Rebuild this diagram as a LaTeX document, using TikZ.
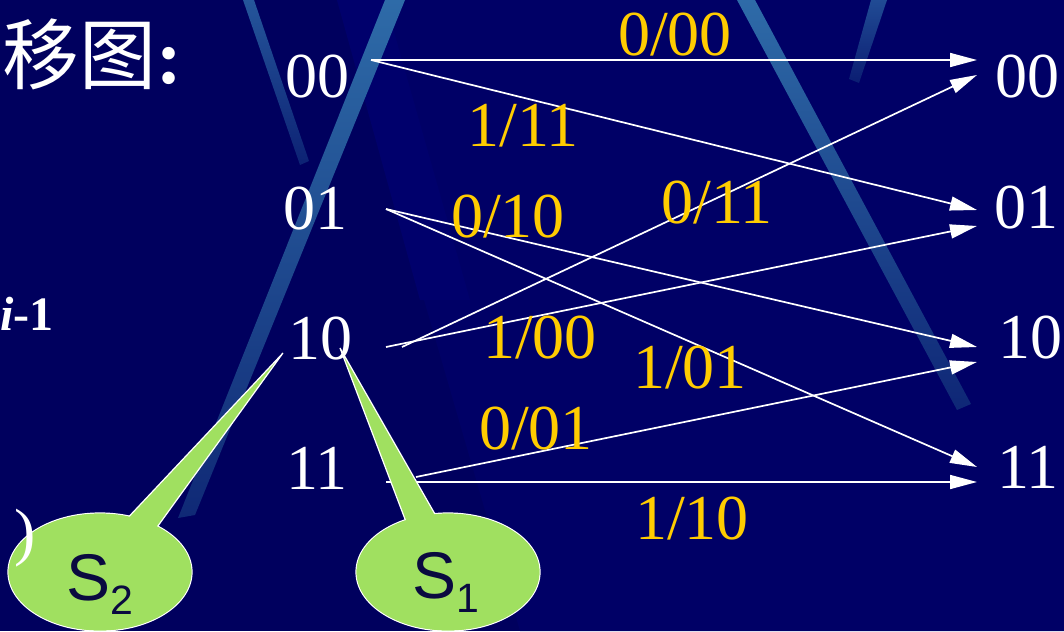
\documentclass[tikz,border=0pt]{standalone}
\usepackage{fontspec}
\setmainfont{Liberation Serif}
\newfontfamily\timesfont{Liberation Serif}
\newfontfamily\cjkfont{Noto Sans CJK SC}
\newfontfamily\arialfont{Liberation Sans}
\usetikzlibrary{arrows.meta,shapes.geometric,calc}
\definecolor{bgbase}{HTML}{000066}
\definecolor{bgdark}{HTML}{00005E}
\definecolor{bglite}{HTML}{00006C}
\definecolor{streaktop}{HTML}{2E6BA8}
\definecolor{streakbot}{HTML}{12307A}
\definecolor{labyellow}{HTML}{FFCC00}
\definecolor{callgreen}{HTML}{A0E060}
\definecolor{calltext}{HTML}{0A0A40}
\begin{document}
\begin{tikzpicture}[x=1pt,y=-1pt,
  statelab/.style={text=white,font=\timesfont\fontsize{64}{64}\selectfont,inner sep=0pt,anchor=base},
  edgelab/.style={text=labyellow,font=\timesfont\fontsize{64}{64}\selectfont,inner sep=0pt,anchor=base},
  arr/.style={draw=white,line width=1.7pt,-{Triangle[length=27pt,width=14pt]}},
  callout/.style={ellipse,fill=callgreen,draw=white,line width=1.2pt,minimum width=184pt,minimum height=118pt,inner sep=0pt},
  tail/.style={fill=callgreen,draw=white,line width=1.2pt,line join=miter},
  stext/.style={text=calltext,font=\arialfont\fontsize{66}{66}\selectfont,inner sep=0pt,anchor=base}]
\useasboundingbox (0,0) rectangle (1064,631);
\clip (0,0) rectangle (1064,631);
% background
\fill[bgdark] (0,0) rectangle (1064,631);
\fill[bgbase] (337,0) -- (1064,0) -- (1064,631) -- (520,631) -- cycle;
\fill[bglite] (337,0) -- (385,0) -- (470,300) -- (420,300) -- cycle;
\shade[top color=streaktop,bottom color=streakbot!85!bgdark] (385,0) -- (405,0) -- (195,515) -- (178,518) -- cycle;
\shade[top color=streaktop!80!bgbase,bottom color=streakbot!70!bgbase] (243,0) -- (254,0) -- (309,161) -- (300,165) -- cycle;
\shade[top color=streaktop,bottom color=streakbot!80!bgbase] (737,0) -- (755,0) -- (971,404) -- (957,410) -- cycle;
\shade[top color=streaktop!70!bgbase,bottom color=streakbot!60!bgbase] (871,0) -- (887,0) -- (859,83) -- (849,79) -- cycle;
% title and side texts
\node[anchor=base west,inner sep=0pt,text=white] (title) at (2,84)
  {\fontsize{77}{77}\selectfont\cjkfont 移图\timesfont\bfseries :};
\node[anchor=base east,inner sep=0pt,text=white,font=\timesfont\fontsize{48}{48}\selectfont\bfseries] (im1) at (54,330) {\textit{i}-1};
% state labels
\node[statelab] (L00) at (317,98) {00};
\node[statelab] (L01) at (315,229) {01};
\node[statelab] (L10) at (320,359) {10};
\node[statelab] (L11) at (317,489) {11};
\node[statelab] (R00) at (1027,98) {00};
\node[statelab] (R01) at (1026,228) {01};
\node[statelab] (R10) at (1030,358) {10};
\node[statelab] (R11) at (1028,488) {11};
% connector ends
\coordinate (o00) at (371,60);
\coordinate (o01) at (386,209);
\coordinate (o10a) at (402,347);
\coordinate (o10b) at (386,347);
\coordinate (o11a) at (416,477);
\coordinate (o11b) at (386,482);
\coordinate (i00a) at (977,60);
\coordinate (i00b) at (977,75);
\coordinate (i01a) at (977,210);
\coordinate (i01b) at (977,226);
\coordinate (i10a) at (977,347);
\coordinate (i10b) at (977,362);
\coordinate (i11a) at (977,467);
\coordinate (i11b) at (977,482);
\draw[arr] (o00) -- (i00a);
\draw[arr] (o00) -- (i01a);
\draw[arr] (o01) -- (i10a);
\draw[arr] (o01) -- (i11a);
\draw[arr] (o10a) -- (i00b);
\draw[arr] (o10b) -- (i01b);
\draw[arr] (o11a) -- (i10b);
\draw[arr] (o11b) -- (i11b);
% edge labels
\node[edgelab] (e1) at (675,56) {0/00};
\node[edgelab] (e2) at (523,147) {1/11};
\node[edgelab] (e3) at (508,237) {0/10};
\node[edgelab] (e4) at (717,223) {0/11};
\node[edgelab] (e5) at (540,358) {1/00};
\node[edgelab] (e6) at (690,388) {1/01};
\node[edgelab] (e7) at (536,449) {0/01};
\node[edgelab] (e8) at (692,539) {1/10};
% callouts
\node[callout] (s2) at (100,572) {};
\coordinate (t2) at (283,353);
\draw[tail] ($(s2.center)!0.9!(s2.64)$) -- (t2) -- ($(s2.center)!0.9!(s2.37)$) -- cycle;
\fill[callgreen] (s2.center) ellipse [x radius=91.4pt,y radius=58.4pt];
\node[stext] (s2t) at (100,600) {S\raisebox{-14pt}{\fontsize{41}{41}\selectfont 2}};
\node[callout] (s1) at (448,572) {};
\coordinate (t1) at (340,348);
\draw[tail] ($(s1.center)!0.9!(s1.131)$) -- (t1) -- ($(s1.center)!0.9!(s1.101)$) -- cycle;
\fill[callgreen] (s1.center) ellipse [x radius=91.4pt,y radius=58.4pt];
\node[stext] (s1t) at (446,598) {S\raisebox{-14pt}{\fontsize{41}{41}\selectfont 1}};
% paren fragment over the left callout
\node[anchor=base west,inner sep=0pt,text=white,font=\timesfont\fontsize{64}{64}\selectfont] (par) at (14,553) {)};
\end{tikzpicture}
\end{document}
